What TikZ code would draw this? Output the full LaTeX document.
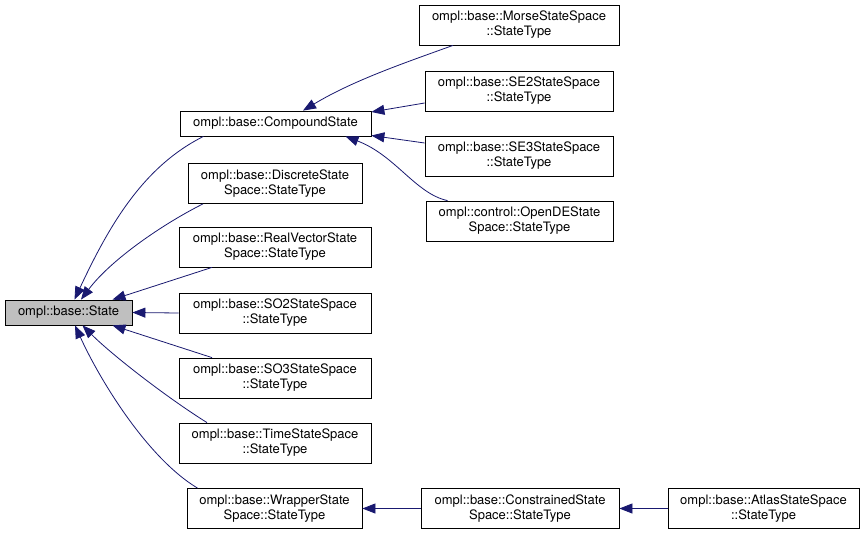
\documentclass[tikz,border=0pt]{standalone}
\usepackage{fontspec}
\setmainfont{TeX Gyre Heros}
\usetikzlibrary{arrows.meta}
\definecolor{edgeblue}{RGB}{25,25,112}
\definecolor{basegray}{RGB}{191,191,191}

\tikzset{
  cls/.style={draw=black, line width=0.8pt, fill=white, align=center, inner sep=0pt,
    font=\fontsize{13}{15}\selectfont, minimum height=40pt},
  onerow/.style={minimum height=25pt},
  inh/.style={edgeblue, line width=0.8pt, -{Triangle[length=13pt,width=10pt]}}
}

\begin{document}
\begin{tikzpicture}[x=1pt, y=-1pt]
  \fill[white] (0,0) rectangle (867,535);
  \useasboundingbox (0,0) rectangle (867,535);

  % base class
  \node[cls, onerow, fill=basegray, minimum width=127pt] (st) at (68.5,312.5){ompl::base::State};

  % middle column
  \node[cls, onerow, minimum width=191pt] (cmp) at (275.5,123.5){ompl::base::CompoundState};
  \node[cls, minimum width=174pt] (dis) at (275,183.5){ompl::base::DiscreteState\\Space::StateType};
  \node[cls, minimum width=192pt] (rv) at (275,247){ompl::base::RealVectorState\\Space::StateType};
  \node[cls, minimum width=192pt] (so2) at (275,313){ompl::base::SO2StateSpace\\::StateType};
  \node[cls, minimum width=192pt] (so3) at (275,378){ompl::base::SO3StateSpace\\::StateType};
  \node[cls, minimum width=192pt] (tim) at (275,443){ompl::base::TimeStateSpace\\::StateType};
  \node[cls, minimum width=175pt] (wrp) at (274.5,508.5){ompl::base::WrapperState\\Space::StateType};

  % right column
  \node[cls, minimum width=200pt] (mor) at (519,25){ompl::base::MorseStateSpace\\::StateType};
  \node[cls, minimum width=188pt] (se2) at (519,91){ompl::base::SE2StateSpace\\::StateType};
  \node[cls, minimum width=188pt] (se3) at (519,156){ompl::base::SE3StateSpace\\::StateType};
  \node[cls, minimum width=187pt] (ode) at (519.5,221){ompl::control::OpenDEState\\Space::StateType};

  % bottom row
  \node[cls, minimum width=198pt] (con) at (520,508.5){ompl::base::ConstrainedState\\Space::StateType};
  \node[cls, minimum width=191pt] (atl) at (763.5,508.5){ompl::base::AtlasStateSpace\\::StateType};

  % derived -> State
  \draw[inh] ([xshift=-72pt]cmp.south) .. controls +(-60,30) and +(35,-75) .. ([xshift=6pt]st.north);
  \draw[inh] ([xshift=-72pt]dis.south) .. controls +(-40,20) and +(30,-40) .. ([xshift=12.5pt]st.north);
  \draw[inh] ([xshift=-63pt]rv.south) -- ([xshift=44pt]st.north);
  \draw[inh] (so2.west) -- (st.east);
  \draw[inh] ([xshift=-63pt]so3.north) -- ([xshift=44pt]st.south);
  \draw[inh] ([xshift=-68pt]tim.north) .. controls +(-40,-25) and +(30,30) .. ([xshift=14pt]st.south);
  \draw[inh] ([xshift=-77pt]wrp.north) .. controls +(-50,-30) and +(25,55) .. ([xshift=6.5pt]st.south);

  % derived -> CompoundState
  \draw[inh] ([xshift=-66pt]mor.south) .. controls +(-50,18) and +(50,-30) .. ([xshift=27.5pt]cmp.north);
  \draw[inh] ([yshift=-12pt]se2.west) -- ([yshift=11.5pt]cmp.east);
  \draw[inh] ([yshift=13pt]se3.west) -- ([yshift=-12pt]cmp.east);
  \draw[inh] ([xshift=-72pt]ode.north) .. controls +(-32,-7) and +(50,19) .. ([xshift=70pt]cmp.south);

  % constrained chain
  \draw[inh] (con.west) -- (wrp.east);
  \draw[inh] (atl.west) -- (con.east);
\end{tikzpicture}
\end{document}
